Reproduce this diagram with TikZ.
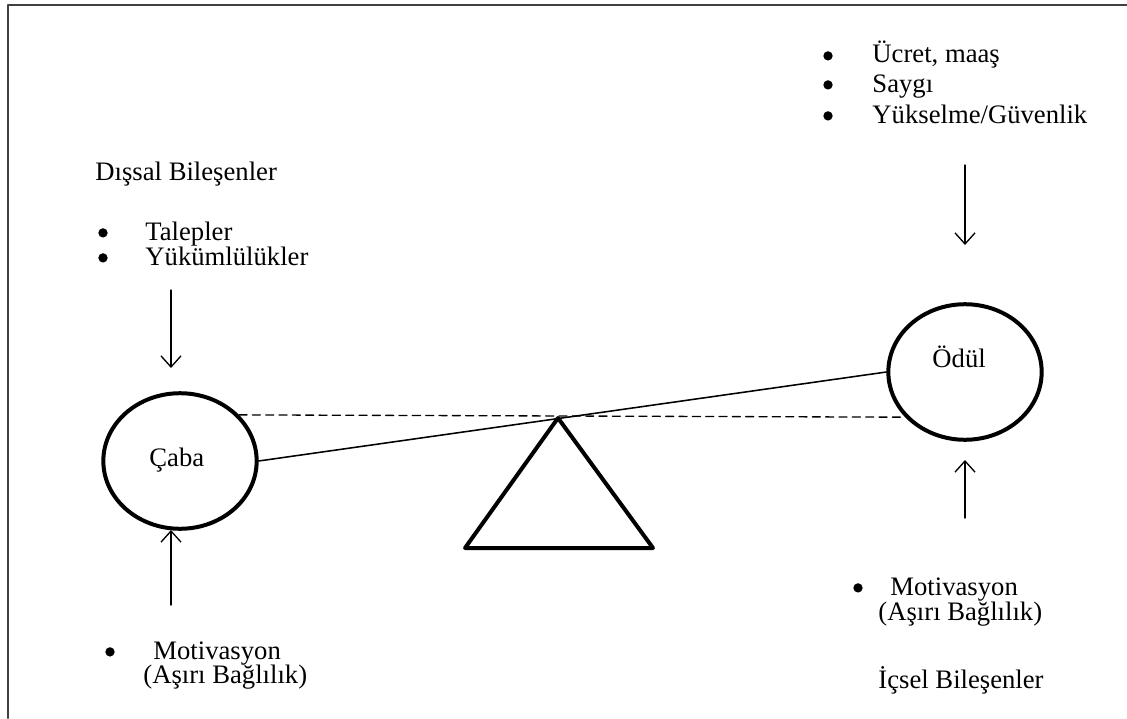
\documentclass[tikz,border=0pt]{standalone}
\usepackage{fontspec}
\setmainfont{Liberation Serif}
\usetikzlibrary{arrows.meta,shapes.geometric}
\begin{document}
\begin{tikzpicture}[x=0.45pt,y=-0.45pt,>={Straight Barb[length=5pt,width=9pt]}, font=\fontsize{12}{14}\selectfont, line join=round, line cap=round]
	\tikzset{pan/.style={draw,ellipse,line width=1.8pt,minimum width=69pt,minimum height=61pt,inner sep=0pt},
		txt/.style={anchor=base west,inner sep=0pt},
		dot/.style={circle,fill,inner sep=0pt,minimum size=4.2pt,yshift=3.2pt},
		push/.style={->,line width=0.6pt}}
	\useasboundingbox (0,0) rectangle (1127,718);
	\draw[black!75,line width=0.9pt] (8,718) -- (8,5) -- (1127,5);
	% kefeler ve destek
	\node[pan] (caba) at (180,461) {};
	\node[pan] (odul) at (965,372) {};
	\node[txt] (caba-t) at (149,466) {Çaba};
	\node[txt] (odul-t) at (932,367) {Ödül};
	\coordinate (tepe) at (558,418);
	\coordinate (alt-sol) at (465,548);
	\coordinate (alt-sag) at (653,548);
	\draw[line width=1.8pt] (tepe) -- (alt-sol) -- (alt-sag) -- cycle;
	\draw[line width=0.7pt] (caba.east) -- (odul.west);
	\draw[dash pattern=on 3.6pt off 2.4pt,line width=0.6pt] (caba.38) -- (odul.217);
	% dissal
	\node[txt] (dissal) at (95,180) {Dışsal Bileşenler};
	\node[dot] (b1) at (103,240) {}; \node[txt] (talep) at (145,240) {Talepler};
	\node[dot] (b2) at (103,265) {}; \node[txt] (yukum) at (145,265) {Yükümlülükler};
	\coordinate (ok1-a) at (171,290); \coordinate (ok1-b) at (171,368);
	\draw[push] (ok1-a) -- (ok1-b);
	\node[dot] (b3) at (110,659) {}; \node[txt] (motiv1) at (153,659) {Motivasyon};
	\node[txt] (bagl1) at (143,683) {(Aşırı Bağlılık)};
	\coordinate (ok2-a) at (171,605); \coordinate (ok2-b) at (171,530);
	\draw[push] (ok2-a) -- (ok2-b);
	% odul tarafi
	\node[dot] (b4) at (828,63) {}; \node[txt] (ucret) at (872,63) {Ücret, maaş};
	\node[dot] (b5) at (828,92) {}; \node[txt] (saygi) at (872,92) {Saygı};
	\node[dot] (b6) at (828,123) {}; \node[txt] (yuksel) at (872,123) {Yükselme/Güvenlik};
	\coordinate (ok3-a) at (965,165); \coordinate (ok3-b) at (965,245);
	\draw[push] (ok3-a) -- (ok3-b);
	\coordinate (ok4-a) at (965,518); \coordinate (ok4-b) at (965,460);
	\draw[push] (ok4-a) -- (ok4-b);
	\node[dot] (b7) at (858,595) {}; \node[txt] (motiv2) at (890,595) {Motivasyon};
	\node[txt] (bagl2) at (878,620) {(Aşırı Bağlılık)};
	\node[txt] (icsel) at (878,688) {İçsel Bileşenler};
\end{tikzpicture}
\end{document}
